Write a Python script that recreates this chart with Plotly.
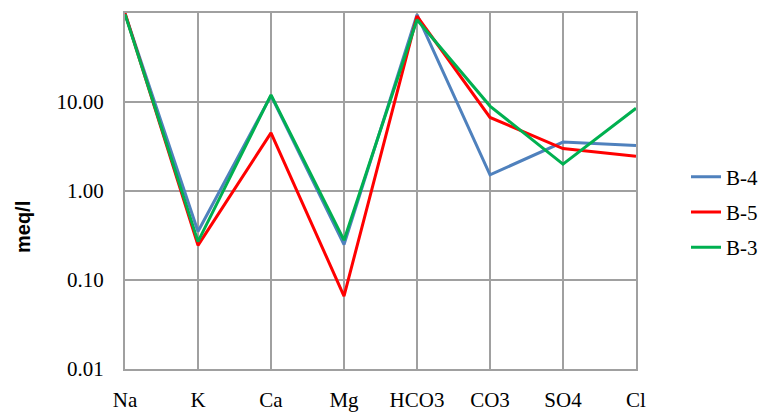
import plotly.graph_objects as go

ions = ["Na", "K", "Ca", "Mg", "HCO3", "CO3", "SO4", "Cl"]
b4 = [98, 0.35, 11.8, 0.25, 96, 1.52, 3.55, 3.25]
b5 = [100, 0.245, 4.5, 0.066, 92, 6.7, 3.0, 2.45]
b3 = [97, 0.27, 12.0, 0.28, 84, 9.0, 2.0, 8.5]
series_names = ["B-4", "B-5", "B-3"]
series_colors = ["#4F81BD", "#FF0000", "#00B050"]
ytick_vals = [0.01, 0.1, 1, 10]
ytick_text = ["0.01", "0.10", "1.00", "10.00"]

fig = go.Figure()
for name, vals, col in zip(series_names, [b4, b5, b3], series_colors):
    fig.add_trace(go.Scatter(x=ions, y=vals, mode="lines", name=name,
                             legendgroup=name,
                             line=dict(color=col, width=3)))

W, H = 761, 414
L, R, T, B = 125, 125, 13, 45
pw, ph = W - L - R, H - T - B

grid = "#A0A0A0"
serif = "Liberation Serif, Times New Roman, serif"
fig.update_layout(
    width=W, height=H,
    margin=dict(l=L, r=R, t=T, b=B, autoexpand=False),
    paper_bgcolor="white", plot_bgcolor="white",
    font=dict(family=serif, size=21, color="black"),
    showlegend=True,
    legend=dict(x=(686 - L) / pw, xanchor="left",
                y=(H - B - 212) / ph, yanchor="middle",
                xref="paper", yref="paper", bgcolor="rgba(0,0,0,0)",
                font=dict(family=serif, size=21),
                tracegroupgap=5),
    xaxis=dict(type="category", range=[0, 7], showgrid=True,
               gridcolor=grid, gridwidth=2, automargin=False,
               showline=True, linecolor=grid, linewidth=2, mirror=True,
               ticks="", ticklabelstandoff=11, zeroline=False),
    yaxis=dict(type="log", range=[-2, 2], tickvals=ytick_vals,
               ticktext=ytick_text, showgrid=True, gridcolor=grid,
               gridwidth=2, showline=True, linecolor=grid, linewidth=2,
               mirror=True, ticks="", ticklabelstandoff=15, zeroline=False,
               automargin=False),
)
fig.add_annotation(text="<b>meq/l</b>", x=(23 - L) / pw, y=(H - B - 227) / ph,
                   xref="paper", yref="paper", showarrow=False, textangle=-90,
                   xanchor="center", yanchor="middle",
                   font=dict(family="Liberation Sans, Arial, sans-serif", size=20))
fig.write_html("out.html")
